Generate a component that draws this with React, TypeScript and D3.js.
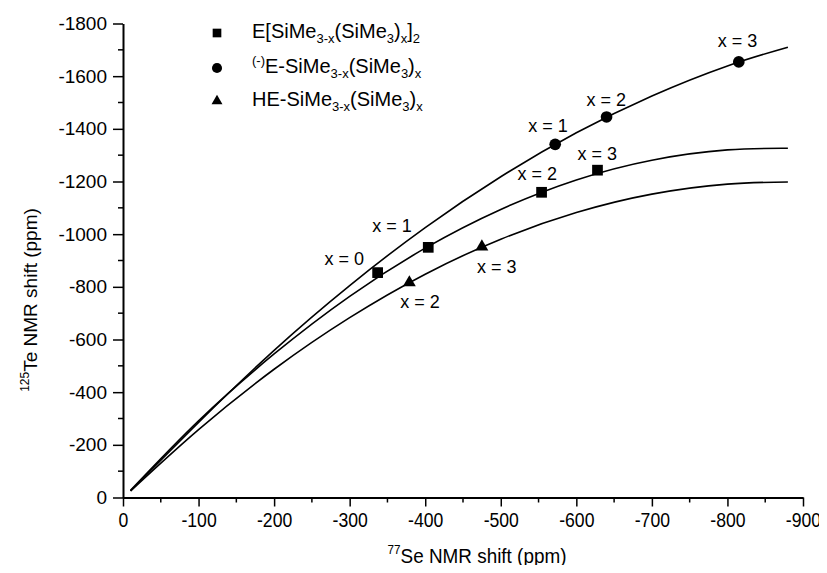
import React, { useEffect, useRef } from "react";
import * as d3 from "d3";

// [77Se shift, 125Te shift] in ppm
const squares = [[-337, -854], [-404, -950], [-554, -1159], [-628, -1243]];
const circles = [[-572, -1341], [-640, -1445], [-815, -1654]];
const triangles = [[-379, -816], [-475, -952]];

const squareLabels = ["x = 0", "x = 1", "x = 2", "x = 3"];
const circleLabels = ["x = 1", "x = 2", "x = 3"];
const triangleLabels = ["x = 2", "x = 3"];

// fitted curves
const fitCircles = [[-10, -25], [-100, -285], [-200, -559], [-300, -805], [-400, -1025], [-500, -1218], [-600, -1385], [-700, -1525], [-800, -1639], [-880, -1710]];
const fitSquares = [[-10, -27], [-100, -291], [-200, -545], [-300, -764], [-400, -947], [-500, -1094], [-600, -1206], [-700, -1281], [-800, -1320], [-880, -1326]];
const fitTriangles = [[-10, -25], [-100, -258], [-200, -487], [-300, -683], [-400, -848], [-500, -981], [-600, -1082], [-700, -1152], [-800, -1190], [-880, -1198]];

const xTicks = [0, -100, -200, -300, -400, -500, -600, -700, -800, -900];
const yTicks = [0, -200, -400, -600, -800, -1000, -1200, -1400, -1600, -1800];

export default function App() {
  const ref = useRef<SVGSVGElement>(null);

  useEffect(() => {
    const svg = d3.select(ref.current);
    svg.selectAll("*").remove();
    const font = "'Liberation Sans', Arial, sans-serif";

    const x = d3.scaleLinear().domain([0, -900]).range([123, 803]);
    const y = d3.scaleLinear().domain([0, -1800]).range([497.5, 23.5]);

    // axes
    const xAxis = d3.axisBottom(x).tickValues(xTicks).tickSize(9).tickSizeOuter(0).tickPadding(6).tickFormat(d => String(d));
    const gx = svg.append("g").attr("transform", "translate(0,497.5)").call(xAxis);
    gx.selectAll("text").attr("font-family", font).attr("font-size", 21).attr("fill", "#000")
      .attr("transform", "scale(0.84,1)");
    gx.append("g").selectAll("line").data(d3.range(-50, -900, -100)).enter().append("line")
      .attr("x1", d => x(d)).attr("x2", d => x(d)).attr("y1", 0).attr("y2", 5).attr("stroke", "#000").attr("stroke-width", 1.5);

    const yAxis = d3.axisLeft(y).tickValues(yTicks).tickSize(10).tickSizeOuter(0).tickPadding(6).tickFormat(d => String(d));
    const gy = svg.append("g").attr("transform", "translate(123,0)").call(yAxis);
    gy.selectAll("text").attr("font-family", font).attr("font-size", 19).attr("fill", "#000");
    gy.append("g").selectAll("line").data(d3.range(-100, -1800, -200)).enter().append("line")
      .attr("y1", d => y(d)).attr("y2", d => y(d)).attr("x1", 0).attr("x2", -5).attr("stroke", "#000").attr("stroke-width", 1.5);

    svg.selectAll(".domain").attr("stroke", "#000").attr("stroke-width", 2);
    svg.selectAll(".tick line").attr("stroke", "#000").attr("stroke-width", 1.5);

    // curves
    const line = d3.line().x(d => x(d[0])).y(d => y(d[1])).curve(d3.curveNatural);
    [fitCircles, fitSquares, fitTriangles].forEach(f => {
      svg.append("path").attr("d", line(f as [number, number][])).attr("fill", "none").attr("stroke", "#000").attr("stroke-width", 1.6);
    });

    // markers
    const sq = d3.symbol().type(d3.symbolSquare).size(115);
    const ci = d3.symbol().type(d3.symbolCircle).size(107);
    const tr = d3.symbol().type(d3.symbolTriangle).size(72);
    const drawPts = (pts: number[][], sym: any) => {
      svg.append("g").selectAll("path").data(pts).enter().append("path")
        .attr("d", sym).attr("transform", d => "translate(" + x(d[0]) + "," + y(d[1]) + ")").attr("fill", "#000");
    };
    drawPts(squares, sq);
    drawPts(circles, ci);
    drawPts(triangles, tr);

    // point labels (offsets from each point, in px)
    const labelOffsets = {
      sq: [[-53, -8], [-56, -15], [-24, -12], [-20, -10]],
      ci: [[-27, -12], [-20, -11], [-21, -15]],
      tr: [[-9, 25], [-5, 26]],
    };
    const drawLabels = (pts: number[][], labels: string[], offs: number[][]) => {
      svg.append("g").selectAll("text").data(pts).enter().append("text")
        .attr("x", (d, i) => x(d[0]) + offs[i][0]).attr("y", (d, i) => y(d[1]) + offs[i][1])
        .attr("font-family", font).attr("font-size", 18).text((d, i) => labels[i]);
    };
    drawLabels(squares, squareLabels, labelOffsets.sq);
    drawLabels(circles, circleLabels, labelOffsets.ci);
    drawLabels(triangles, triangleLabels, labelOffsets.tr);

    // legend
    const leg = svg.append("g").attr("font-family", font).attr("font-size", 20);
    const lsq = d3.symbol().type(d3.symbolSquare).size(75);
    const lci = d3.symbol().type(d3.symbolCircle).size(80);
    const ltr = d3.symbol().type(d3.symbolTriangle).size(52);
    leg.append("path").attr("d", lsq()).attr("transform", "translate(217,33)");
    leg.append("path").attr("d", lci()).attr("transform", "translate(217,68)");
    leg.append("path").attr("d", ltr()).attr("transform", "translate(217,101)");

    const rich = (yy: number, parts: [string, string][]) => {
      const t = leg.append("text").attr("x", 252).attr("y", yy);
      let shift = 0;
      parts.forEach(([s, kind]) => {
        const target = kind === "sub" ? 5 : kind === "sup" ? -8 : 0;
        t.append("tspan").attr("dy", target - shift).attr("font-size", kind === "n" ? 20 : 13).text(s);
        shift = target;
      });
    };
    rich(38, [["E[SiMe", "n"], ["3-x", "sub"], ["(SiMe", "n"], ["3", "sub"], [")", "n"], ["x", "sub"], ["]", "n"], ["2", "sub"]]);
    rich(73, [["(-)", "sup"], ["E-SiMe", "n"], ["3-x", "sub"], ["(SiMe", "n"], ["3", "sub"], [")", "n"], ["x", "sub"]]);
    rich(106, [["HE-SiMe", "n"], ["3-x", "sub"], ["(SiMe", "n"], ["3", "sub"], [")", "n"], ["x", "sub"]]);

    // axis titles
    const xt = svg.append("text").attr("transform", "translate(477,563) scale(0.9,1)").attr("text-anchor", "middle").attr("font-family", font).attr("font-size", 21);
    xt.append("tspan").attr("font-size", 13).attr("dy", -9).text("77");
    xt.append("tspan").attr("dy", 9).text("Se NMR shift (ppm)");

    const yt = svg.append("text").attr("transform", "translate(37,300) rotate(-90)").attr("text-anchor", "middle").attr("font-family", font).attr("font-size", 19);
    yt.append("tspan").attr("font-size", 12).attr("dy", -8).text("125");
    yt.append("tspan").attr("dy", 8).text("Te NMR shift (ppm)");
  }, []);

  return (
    <div style={{ margin: -8 }}>
      <svg ref={ref} width={827} height={573} style={{ display: "block", background: "#fff" }} />
    </div>
  );
}
